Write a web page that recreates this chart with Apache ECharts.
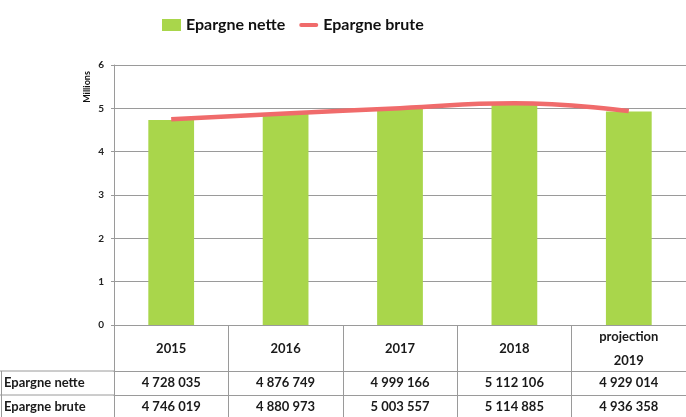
<!DOCTYPE html>
<html>
<head>
<meta charset="utf-8">
<script src="https://cdn.jsdelivr.net/npm/echarts@6/dist/echarts.min.js"></script>
<style>
  html, body { margin: 0; padding: 0; background: #fff; }
  #chart { width: 686px; height: 417px; }
</style>
</head>
<body>
<div id="chart"></div>
<script>
// catégories et valeurs (en euros)
var categories = ['2015', '2016', '2017', '2018', 'projection\n2019'];
var epargneNette = [4728035, 4876749, 4999166, 5112106, 4929014];
var epargneBrute = [4746019, 4880973, 5003557, 5114885, 4936358];
var yTicks = [0, 1, 2, 3, 4, 5, 6];

var FONT = 'Lato, "Open Sans", sans-serif';
var GRID_COLOR = '#9a9a9a';

function fmt(v) {
    return String(v).replace(/\B(?=(\d{3})+(?!\d))/g, ' ');
}
function toMillions(arr) {
    return arr.map(function (v) { return v / 1e6; });
}

var chart = echarts.init(document.getElementById('chart'));

var option = {
    animation: false,
    textStyle: { fontFamily: FONT },
    legend: {
        top: 12,
        left: 157,
        itemWidth: 19,
        itemHeight: 12,
        itemGap: 14,
        textStyle: { fontSize: 16, fontWeight: 'bold', color: '#111', fontFamily: FONT },
        data: [
            { name: 'Epargne nette', icon: 'rect' },
            { name: 'Epargne brute', icon: 'path://M2,0 L18,0 A2,2 0 0 1 18,4 L2,4 A2,2 0 0 1 2,0 Z' }
        ]
    },
    grid: { left: 114, right: -10.5, top: 65, bottom: 92 },
    xAxis: [
        {
            type: 'category',
            data: categories,
            axisLine: { lineStyle: { color: GRID_COLOR } },
            axisTick: { show: true, length: 92, lineStyle: { color: GRID_COLOR } },
            axisLabel: {
                margin: 24, verticalAlign: 'middle', lineHeight: 24,
                fontSize: 13, fontWeight: 'bold', color: '#1a1a1a', fontFamily: FONT
            }
        },
        {
            type: 'category', position: 'bottom', offset: 46,
            data: epargneNette.map(fmt),
            axisLine: { show: true, lineStyle: { color: GRID_COLOR } },
            axisTick: { show: false },
            axisLabel: {
                margin: 12, verticalAlign: 'middle',
                fontSize: 13, fontWeight: 'bold', color: '#1a1a1a', fontFamily: FONT
            }
        },
        {
            type: 'category', position: 'bottom', offset: 70,
            data: epargneBrute.map(fmt),
            axisLine: { show: true, lineStyle: { color: GRID_COLOR } },
            axisTick: { show: false },
            axisLabel: {
                margin: 12, verticalAlign: 'middle',
                fontSize: 13, fontWeight: 'bold', color: '#1a1a1a', fontFamily: FONT
            }
        }
    ],
    yAxis: {
        type: 'value',
        min: yTicks[0],
        max: yTicks[yTicks.length - 1],
        interval: 1,
        axisLine: { show: true, lineStyle: { color: GRID_COLOR } },
        axisTick: { show: true, length: 3, lineStyle: { color: GRID_COLOR } },
        axisLabel: { margin: 10, fontSize: 10, fontWeight: 'bold', color: '#222', fontFamily: FONT },
        splitLine: { lineStyle: { color: GRID_COLOR, width: 1 } }
    },
    graphic: [
        { type: 'text', x: 87, y: 87, rotation: Math.PI / 2,
          style: { text: 'Millions', fontSize: 9, fontWeight: 'bold', fill: '#111',
                   fontFamily: FONT, align: 'center', verticalAlign: 'middle' } },
        // colonne des libellés du tableau
        { type: 'line', shape: { x1: 0, y1: 371, x2: 114, y2: 371 }, style: { stroke: GRID_COLOR, lineWidth: 1 } },
        { type: 'line', shape: { x1: 0, y1: 395, x2: 114, y2: 395 }, style: { stroke: GRID_COLOR, lineWidth: 1 } },
        { type: 'line', shape: { x1: 1.5, y1: 371, x2: 1.5, y2: 417 }, style: { stroke: GRID_COLOR, lineWidth: 1 } },
        { type: 'text', x: 4, y: 383,
          style: { text: 'Epargne nette', fontSize: 13, fontWeight: 'bold', fill: '#1a1a1a',
                   fontFamily: FONT, verticalAlign: 'middle' } },
        { type: 'text', x: 4, y: 407,
          style: { text: 'Epargne brute', fontSize: 13, fontWeight: 'bold', fill: '#1a1a1a',
                   fontFamily: FONT, verticalAlign: 'middle' } }
    ],
    series: [
        {
            name: 'Epargne nette',
            type: 'bar',
            barWidth: '40%',
            itemStyle: { color: '#a9d64b' },
            data: toMillions(epargneNette)
        },
        {
            name: 'Epargne brute',
            type: 'line',
            smooth: true,
            symbol: 'none',
            lineStyle: { color: '#f06b6b', width: 4.5 },
            itemStyle: { color: '#f06b6b' },
            data: toMillions(epargneBrute)
        }
    ]
};

chart.setOption(option);
</script>
</body>
</html>
